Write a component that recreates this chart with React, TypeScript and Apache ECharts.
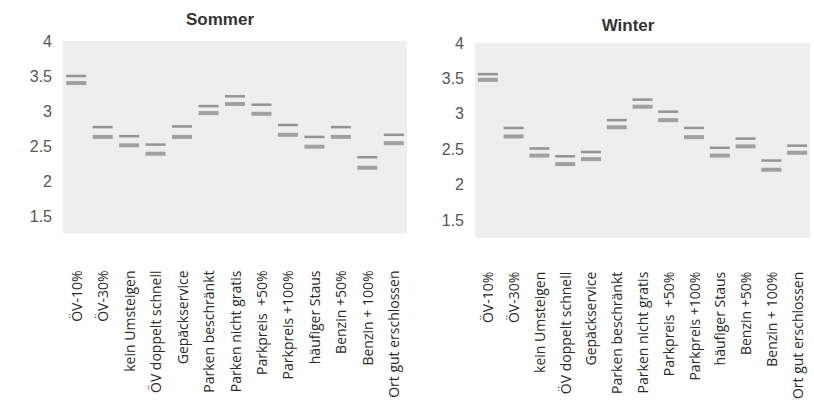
import React, { useEffect, useRef } from "react";
import * as echarts from "echarts";

const categories = [
  "ÖV-10%",
  "ÖV-30%",
  "kein Umsteigen",
  "ÖV doppelt schnell",
  "Gepäckservice",
  "Parken beschränkt",
  "Parken nicht gratis",
  "Parkpreis  +50%",
  "Parkpreis +100%",
  "häufiger Staus",
  "Benzin +50%",
  "Benzin + 100%",
  "Ort gut erschlossen",
];

const sommerUpper = [3.5, 2.77, 2.64, 2.52, 2.78, 3.07, 3.21, 3.09, 2.8, 2.63, 2.77, 2.34, 2.66];
const sommerLower = [3.4, 2.63, 2.51, 2.39, 2.63, 2.97, 3.1, 2.96, 2.66, 2.49, 2.63, 2.19, 2.54];
const winterUpper = [3.56, 2.8, 2.51, 2.4, 2.46, 2.91, 3.2, 3.03, 2.8, 2.52, 2.65, 2.34, 2.55];
const winterLower = [3.48, 2.68, 2.41, 2.29, 2.36, 2.81, 3.1, 2.91, 2.67, 2.41, 2.54, 2.21, 2.45];

const titles = ["Sommer", "Winter"];
const yMin = 1.25;
const yMax = 4;

export default function App() {
  const ref = useRef<HTMLDivElement>(null);
  useEffect(() => {
    if (!ref.current) return;
    const chart = echarts.init(ref.current, null, { renderer: "svg" });
    const grids = [
      { left: 63, top: 41, width: 344, height: 192.5 },
      { left: 475, top: 43, width: 335, height: 194.7 },
    ];
    const labelMargins = [37, 34];
    const yAxisDef = (i: number) => ({
      type: "value",
      gridIndex: i,
      min: yMin,
      max: yMax,
      interval: 0.25,
      axisLine: { show: false },
      axisTick: { show: false },
      splitLine: { show: false },
      axisLabel: {
        margin: 11,
        fontSize: 16,
        color: "#555",
        fontFamily: "Liberation Sans, Arial, sans-serif",
        formatter: (v: number) =>
          Math.abs(v * 2 - Math.round(v * 2)) < 1e-6 && v > yMin ? String(v) : "",
      },
    });
    const xAxisDef = (i: number) => ({
      type: "category",
      gridIndex: i,
      data: categories,
      axisLine: { show: false },
      axisTick: { show: false },
      splitLine: { show: false },
      axisLabel: {
        interval: 0,
        rotate: 90,
        margin: labelMargins[i],
        fontSize: 14,
        color: "#2a2a2a",
        fontFamily: "Open Sans, sans-serif",
        padding: [0, 0, 14, 0],
      },
    });
    const mk = (data: number[], i: number, h: number, color: string) => ({
      type: "scatter",
      xAxisIndex: i,
      yAxisIndex: i,
      data,
      symbol: "rect",
      symbolSize: [20, h],
      itemStyle: { color, opacity: 1 },
      silent: true,
    });
    chart.setOption({
      animation: false,
      backgroundColor: "#ffffff",
      title: [
        {
          text: titles[0],
          left: 215,
          top: 6,
          textAlign: "center",
          textStyle: { fontSize: 17, fontWeight: "bold", color: "#333", fontFamily: "Liberation Sans, Arial, sans-serif" },
        },
        {
          text: titles[1],
          left: 623,
          top: 12,
          textAlign: "center",
          textStyle: { fontSize: 17, fontWeight: "bold", color: "#333", fontFamily: "Liberation Sans, Arial, sans-serif" },
        },
      ],
      grid: grids.map((g) => ({ ...g, show: true, backgroundColor: "#eeeeee", borderWidth: 0 })),
      xAxis: [xAxisDef(0), xAxisDef(1)],
      yAxis: [yAxisDef(0), yAxisDef(1)],
      series: [
        mk(sommerUpper, 0, 2.5, "#939393"),
        mk(sommerLower, 0, 4, "#a0a0a0"),
        mk(winterUpper, 1, 2.5, "#939393"),
        mk(winterLower, 1, 4, "#a0a0a0"),
      ],
    });
    return () => chart.dispose();
  }, []);
  return (
    <div
      ref={ref}
      style={{ position: "fixed", left: 0, top: 0, width: 814, height: 403 }}
    />
  );
}
